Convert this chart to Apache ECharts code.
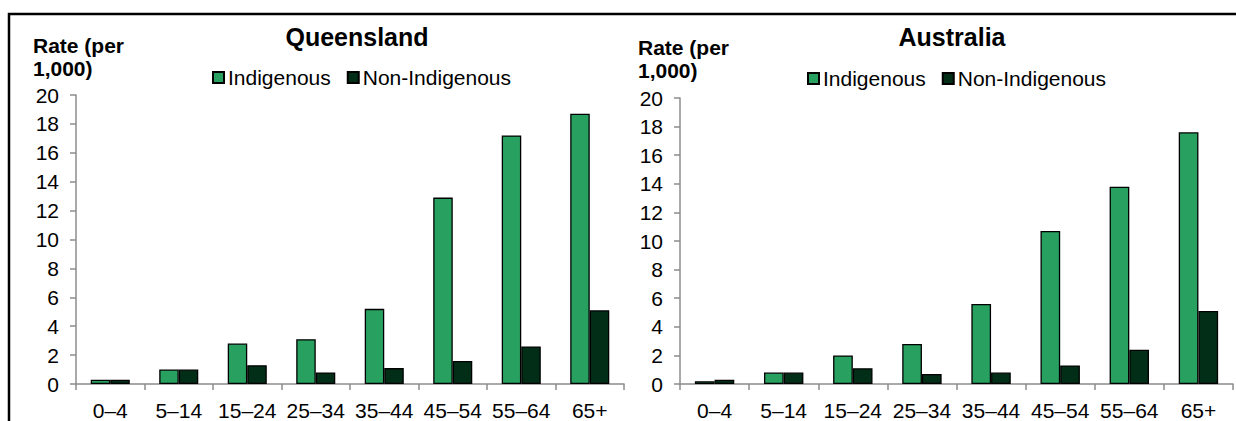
<!DOCTYPE html>
<html>
<head>
<meta charset="utf-8">
<script src="https://cdn.jsdelivr.net/npm/echarts@6/dist/echarts.min.js"></script>
<style>
html,body{margin:0;padding:0;background:#fff;}
#chart{width:1236px;height:421px;}
</style>
</head>
<body>
<div id="chart"></div>
<script>
const categories = ['0–4','5–14','15–24','25–34','35–44','45–54','55–64','65+'];
const seriesNames = ['Indigenous','Non-Indigenous'];
const qldIndigenous = [0.3,1.0,2.8,3.1,5.2,12.9,17.2,18.7];
const qldNonIndigenous = [0.3,1.0,1.3,0.8,1.1,1.6,2.6,5.1];
const ausIndigenous = [0.2,0.8,2.0,2.8,5.6,10.7,13.8,17.6];
const ausNonIndigenous = [0.3,0.8,1.1,0.7,0.8,1.3,2.4,5.1];
const panelTitles = ['Queensland','Australia'];
const yAxisTitle = 'Rate (per\n1,000)';

const FONT = "'Liberation Sans', Arial, sans-serif";
const GREEN = '#27A060';
const DARK = '#022E18';

const chart = echarts.init(document.getElementById('chart'), null, {renderer:'svg'});

function xAxis(gi){
  return {
    type:'category', gridIndex:gi, data:categories,
    axisLine:{lineStyle:{color:'#8c8c8c',width:1.5}},
    axisTick:{show:true,length:6,lineStyle:{color:'#8c8c8c',width:1.5}},
    axisLabel:{color:'#000',fontSize:21,fontFamily:FONT,margin:16,interval:0}
  };
}
function yAxis(gi){
  return {
    type:'value', gridIndex:gi, min:0, max:20, interval:2,
    splitLine:{show:false},
    axisLine:{show:true,lineStyle:{color:'#8c8c8c',width:1.5}},
    axisTick:{show:true,length:6,lineStyle:{color:'#8c8c8c',width:1.5}},
    axisLabel:{color:'#000',fontSize:21,fontFamily:FONT,margin:17}
  };
}
function bar(name, data, gi, color){
  return {
    type:'bar', name:name, data:data, xAxisIndex:gi, yAxisIndex:gi,
    barGap:'0%', barCategoryGap:'43%',
    itemStyle:{color:color,borderColor:'#000',borderWidth:1.3},
    emphasis:{disabled:true}, animation:false
  };
}
function legend(left, top){
  return {
    left:left, top:top, icon:'rect', itemWidth:11, itemHeight:11, itemGap:16,
    data:seriesNames,
    textStyle:{color:'#000',fontSize:21,fontFamily:FONT,padding:[0,0,0,-1]}
  };
}

chart.setOption({
  animation:false,
  title:[
    {text:panelTitles[0], left:352, top:19, textAlign:'center',
     textStyle:{fontSize:25,fontWeight:'bold',color:'#000',fontFamily:FONT}},
    {text:panelTitles[1], left:947, top:19, textAlign:'center',
     textStyle:{fontSize:25,fontWeight:'bold',color:'#000',fontFamily:FONT}},
    {text:yAxisTitle, left:28, top:29,
     textStyle:{fontSize:21,fontWeight:'bold',color:'#000',fontFamily:FONT,lineHeight:23}},
    {text:yAxisTitle, left:633, top:31,
     textStyle:{fontSize:21,fontWeight:'bold',color:'#000',fontFamily:FONT,lineHeight:23}}
  ],
  legend:[legend(207,62), legend(802,63)],
  grid:[
    {left:76, top:95, width:548, height:290},
    {left:680, top:98, width:553, height:287}
  ],
  xAxis:[xAxis(0), xAxis(1)],
  yAxis:[yAxis(0), yAxis(1)],
  series:[
    bar(seriesNames[0], qldIndigenous, 0, GREEN),
    bar(seriesNames[1], qldNonIndigenous, 0, DARK),
    bar(seriesNames[0], ausIndigenous, 1, GREEN),
    bar(seriesNames[1], ausNonIndigenous, 1, DARK)
  ],
  graphic:[
    {type:'rect', silent:true, shape:{x:9, y:14, width:1400, height:600},
     style:{fill:'none', stroke:'#000', lineWidth:2.5}}
  ]
});
</script>
</body>
</html>
